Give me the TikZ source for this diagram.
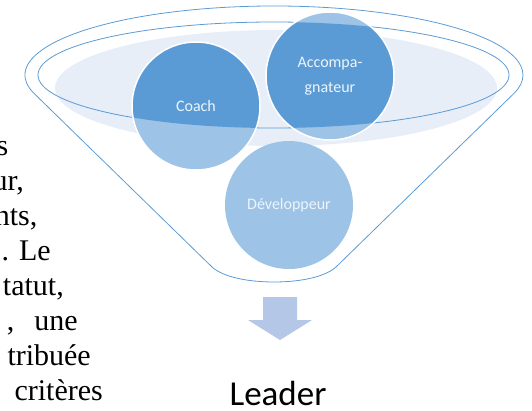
\documentclass[tikz,border=0pt]{standalone}
\usepackage{fontspec}
\setmainfont{Liberation Serif}
\newfontfamily\calibri{Carlito}
\usetikzlibrary{calc}

\definecolor{bubbledark}{HTML}{5B9BD5}
\definecolor{bubblelight}{HTML}{9DC3E6}
\definecolor{rimshade}{HTML}{E7EEF8}
\definecolor{arrowblue}{HTML}{B4C7E7}
\definecolor{labelwhite}{HTML}{EEF4FB}

\tikzset{
    rimline/.style={draw=bubbledark, line width=0.8pt},
    bubble/.style={circle, minimum size=128pt, inner sep=0pt, draw=white, line width=1.5pt,
        text=labelwhite, font=\calibri\fontsize{16}{25}\selectfont, align=center},
    bodytext/.style={anchor=base east, inner sep=0pt, font=\fontsize{30}{35}\selectfont},
}

\begin{document}
\begin{tikzpicture}[x=1pt, y=-1pt]
\useasboundingbox (0,0) rectangle (532,410);

%% Body text cut by the picture
\node[bodytext] (line1) at (8.5,155) {s};
\node[bodytext] (line2) at (24,190) {ur,};
\node[bodytext] (line3) at (37.5,225) {nts,};
\node[bodytext] (line4) at (51,260) {.\hspace{10pt}Le};
\node[bodytext] (line5) at (64,295) {tatut,};
\node[bodytext] (line6) at (78,330) {,\hspace{20pt}une};
\node[bodytext] (line7) at (91,365) {tribuée};
\node[bodytext] (line8) at (103,400) {critères};

%% Funnel
\coordinate (rim) at (274,75);
\fill[rimshade] (276,88) ellipse [x radius=221, y radius=58];
\draw[rimline]
    ($(rim)+(165:249 and 69)$)
    arc [start angle=165, end angle=375, x radius=249, y radius=69]
    -- (336,267)
    .. controls (325,277) and (300,282) .. (274,282)
    .. controls (248,282) and (223,277) .. (212,267)
    -- cycle;
\draw[rimline] (273.5,75) ellipse [x radius=235.5, y radius=53];

%% Bubbles
\coordinate (coach) at (196,106);
\coordinate (accomp) at (330,76);
\coordinate (devel) at (289,205);
\foreach \c in {coach, accomp, devel}
    \fill[bubblelight] (\c) circle [radius=64];
\begin{scope}
    \clip (273.5,75) ellipse [x radius=235.5, y radius=53];
    \foreach \c in {coach, accomp, devel}
        \fill[bubbledark] (\c) circle [radius=64];
\end{scope}
\node[bubble] (coachnode) at (coach) {Coach};
\node[bubble] (accompnode) at (accomp) {Accompa-\\gnateur};
\node[bubble, draw=none] (develnode) at (devel) {Développeur};

%% Arrow and result
\fill[arrowblue] (263,297) -- (297,297) -- (297,320) -- (312,320)
    -- (280,340) -- (248,320) -- (263,320) -- cycle;
\node[anchor=base, inner sep=0pt, font=\calibri\fontsize{35}{40}\selectfont] (leader) at (278,405) {Leader};
\end{tikzpicture}
\end{document}
